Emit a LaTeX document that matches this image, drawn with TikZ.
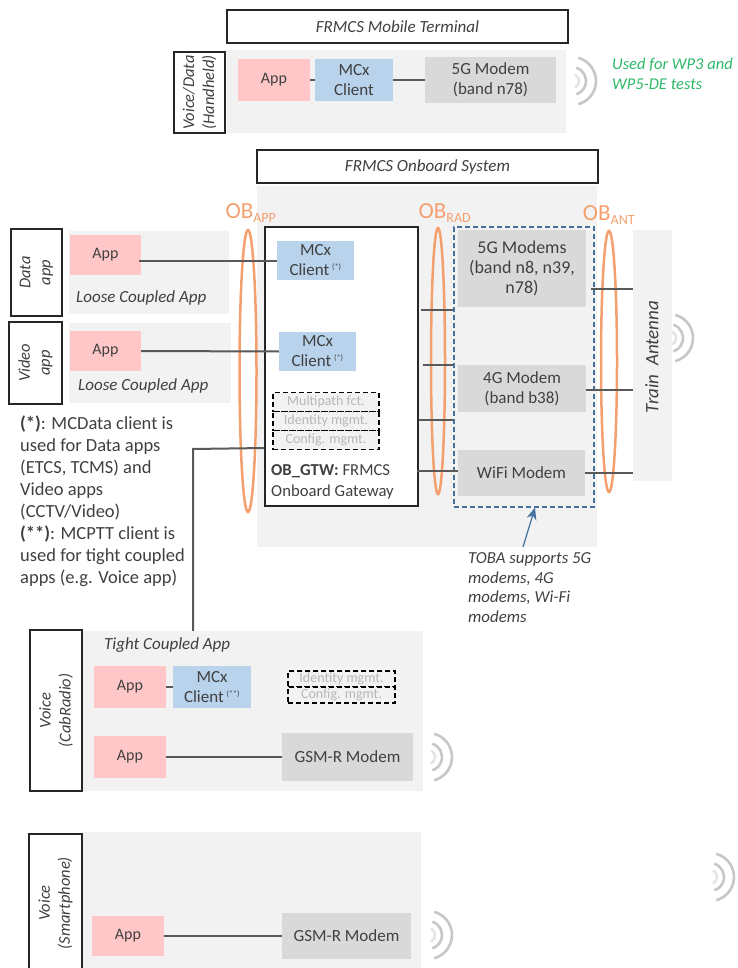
\documentclass[tikz,border=0pt]{standalone}
\usepackage{xcolor}
\usepackage{fontspec}
\setmainfont{Carlito}
\usetikzlibrary{arrows.meta,shapes.geometric}
\definecolor{panelgrey}{HTML}{F2F2F2}
\definecolor{modemgrey}{HTML}{D9D9D9}
\definecolor{apppink}{HTML}{FFC7C7}
\definecolor{mcxblue}{HTML}{B9D3EC}
\definecolor{oborange}{HTML}{F4A06E}
\definecolor{inkgrey}{HTML}{404040}
\definecolor{linkgrey}{HTML}{595959}
\definecolor{tobablue}{HTML}{44719F}
\definecolor{usedgreen}{HTML}{2DB86A}
\newcommand{\fs}[2]{\fontsize{#1}{#2}\selectfont}
\newcommand{\clientmark}[1]{\,\textsuperscript{\fs{8}{8}#1}}
\newcommand{\obsub}[1]{\textsubscript{\fs{14}{14}#1}}
\tikzset{
  every node/.style={text=inkgrey, inner sep=0pt, align=center, font=\fs{17}{20}},
  size/.style 2 args={minimum width=#1pt, minimum height=#2pt},
  panel/.style={fill=panelgrey},
  app/.style={fill=apppink, font=\fs{16}{20}},
  mcx/.style={fill=mcxblue},
  modem/.style={fill=modemgrey},
  tag/.style={draw=black!85, line width=1.4pt, fill=white, rotate=90, font=\fs{16.5}{20}\itshape, align=center},
  titlebox/.style={draw=black!85, line width=1.4pt, fill=white, font=\fs{17}{20}\itshape},
  mgmt/.style={draw=black, line width=1.3pt, dash pattern=on 5pt off 3pt, fill=panelgrey, text=black!28, font=\fs{14}{14}},
  note/.style={anchor=west, align=left},
  link/.style={draw=linkgrey, line width=2pt},
  obring/.style={draw=oborange, line width=2.5pt, ellipse},
  oblabel/.style={text=oborange, font=\fs{23}{23}},
  wave/.style={draw=black!22, line width=2.6pt},
  waves/.pic={
    \draw[wave, black!10] (-65:7) arc (-65:65:7);
    \draw[wave] (-72:14) arc (-72:72:14);
    \draw[wave] (-75:24) arc (-75:75:24);
  }
}
\begin{document}
\begin{tikzpicture}[x=1pt, y=-1pt]
  \useasboundingbox (0,0) rectangle (737,968);
  % background panels
  \node[panel, size={339}{83}] (termpanel) at (396.5,91.5) {};
  \node[panel, size={340}{361}] (obspanel) at (427,366.5) {};
  \node[panel, size={160}{83}] (datapanel) at (149,272.5) {};
  \node[panel, size={162}{80}] (videopanel) at (150,363) {};
  \node[panel, size={39}{251}] (antpanel) at (652.5,355.5) {};
  \node[panel, size={340}{160}] (cabpanel) at (253,711) {};
  \node[panel, size={338}{136}] (phonepanel) at (252,900) {};
  % left tags and titles
  \node[titlebox, size={341}{33}] (termtitle) at (397.5,26.5) {FRMCS Mobile Terminal};
  \node[titlebox, size={341}{33}] (obstitle) at (427.5,166.5) {FRMCS Onboard System};
  \node[tag, size={81}{51}] (handheld) at (199.5,92.5) {Voice/Data\\(Handheld)};
  \node[tag, size={87}{51}] (datatag) at (36.5,272.5) {Data\\app};
  \node[tag, size={82}{53}] (videotag) at (35.5,363) {Video\\app};
  \node[tag, size={161}{52}] (cabtag) at (56,710.5) {Voice\\(CabRadio)};
  \node[tag, size={138}{53}] (phonetag) at (55.5,903) {Voice\\(Smartphone)};
  % mobile terminal
  \node[app, size={72}{42}] (app0) at (274,80) {App};
  \node[mcx, size={78}{42}] (mcx0) at (354,80) {MCx\\Client};
  \node[modem, size={131}{46}] (modem0) at (490.5,80) {5G Modem\\(band n78)};
  \node[text=usedgreen, note, font=\fs{16.5}{20}\itshape] (used) at (612,74) {Used for WP3 and\\WP5-DE tests};
  % onboard system
  \node[draw=black!85, line width=1.4pt, fill=white, size={153}{279}] (gtw) at (341.5,366.5) {};
  \node[app, size={71}{40}] (app1) at (105.5,255) {App};
  \node[app, size={71}{40}] (app2) at (105.5,351) {App};
  \node[note, font=\fs{17}{20}\itshape] (loose1) at (76,298) {Loose Coupled App};
  \node[note, font=\fs{17}{20}\itshape] (loose2) at (78,386) {Loose Coupled App};
  \node[mcx, size={77}{39}] (mcx1) at (315.5,260.5) {MCx\\Client\clientmark{(*)}};
  \node[mcx, size={77}{39}] (mcx2) at (317.5,351.5) {MCx\\Client\clientmark{(*)}};
  \node[mgmt, size={106}{19}] (multi) at (326,402) {Multipath fct.};
  \node[mgmt, size={106}{19}] (ident) at (326,421) {Identity mgmt.};
  \node[mgmt, size={106}{19}] (config) at (326,440) {Config. mgmt.};
  \node[note, font=\fs{16.7}{21}] (gtwtext) at (271,481.5) {\textbf{OB\_GTW:} FRMCS\\Onboard Gateway};
  \node[modem, size={128}{77}, font=\fs{18}{20}] (modem5g) at (522,268.5) {5G Modems\\(band n8, n39,\\n78)};
  \node[modem, size={128}{47}] (modem4g) at (522,388.5) {4G Modem\\(band b38)};
  \node[modem, size={127}{46}] (wifi) at (521.5,473) {WiFi Modem};
  \node[draw=tobablue, line width=1.2pt, dash pattern=on 5pt off 3pt, size={140}{280}] (toba) at (524,367) {};
  \node[rotate=90, font=\fs{19}{20}\itshape] (antenna) at (652,357) {Train\ \ Antenna};
  % interfaces
  \node[obring, size={17}{282}] (ringapp) at (248,371) {};
  \node[obring, size={14}{266}] (ringrad) at (438,361) {};
  \node[obring, size={16}{261}] (ringant) at (609,361.5) {};
  \node[oblabel] (labapp) at (251,213) {OB\obsub{APP}};
  \node[oblabel] (labrad) at (445,213) {OB\obsub{RAD}};
  \node[oblabel] (labant) at (609,215) {OB\obsub{ANT}};
  % notes
  \node[note, font=\fs{18.5}{22}] (clients) at (20,501) {\textbf{(*)}: MCData client is\\used for Data apps\\(ETCS, TCMS) and\\Video apps\\(CCTV/Video)\\\textbf{(**)}: MCPTT client is\\used for tight coupled\\apps (e.g. Voice app)};
  \node[note, font=\fs{16.8}{19.5}\itshape] (tobatext) at (468,587.5) {TOBA supports 5G\\modems, 4G\\modems, Wi-Fi\\modems};
  % voice cab radio
  \node[note, font=\fs{17}{20}\itshape] (tight) at (104,645) {Tight Coupled App};
  \node[app, size={72}{42}] (app3) at (130,687) {App};
  \node[mcx, size={78}{42}] (mcx3) at (212,687) {MCx\\Client\clientmark{(**)}};
  \node[mgmt, size={107}{16}] (ident3) at (341.5,679) {Identity mgmt.};
  \node[mgmt, size={107}{16}] (config3) at (341.5,695) {Config. mgmt.};
  \node[app, size={72}{42}] (app4) at (130,757) {App};
  \node[modem, size={131}{48}] (gsm1) at (347.5,757) {GSM-R Modem};
  % voice smartphone
  \node[app, size={72}{40}] (app5) at (128,936) {App};
  \node[modem, size={129}{46}] (gsm2) at (346.5,936) {GSM-R Modem};
  % connectors
  \coordinate (bend) at (193,449);
  \coordinate (rad1) at (421,310);
  \coordinate (rad2) at (423,365);
  \coordinate (rad3) at (419,420);
  \coordinate (rad4) at (417,471);
  \coordinate (ant1) at (591,289);
  \coordinate (ant2) at (586,390);
  \coordinate (ant3) at (585,473);
  \coordinate (tobatail) at (523,547);
  \draw[link] (app0) -- (mcx0);
  \draw[link] (mcx0) -- (modem0);
  \draw[link] (app1.east) ++(-2,6) -- (mcx1.west |- 0,261);
  \draw[link] (app2.east) -- (mcx2.west);
  \draw[link] (config.west) ++(-8,8) -- (bend) -- (cabpanel.north -| bend);
  \draw[link] (rad1) -- (rad1 -| toba.west);
  \draw[link] (rad2) -- (rad2 -| toba.west);
  \draw[link] (rad3) -- (rad3 -| toba.west);
  \draw[link] (rad4) -- (rad4 -| wifi.west);
  \draw[link] (ant1) -- (ant1 -| antpanel.west);
  \draw[link] (ant2) -- (ant2 -| antpanel.west);
  \draw[link] (ant3) -- (ant3 -| antpanel.west);
  \draw[link] (app3) -- (mcx3);
  \draw[link] (app4) -- (gsm1);
  \draw[link] (app5) -- (gsm2);
  \draw[-{Stealth[length=12pt,width=10pt]}, draw=tobablue, fill=tobablue, line width=1.2pt] (tobatail) -- (toba.south -| 535,0);
  % radio waves
  \pic at (572,81) {waves};
  \pic at (669,338) {waves};
  \pic at (428,757) {waves};
  \pic at (428,935) {waves};
  \pic at (710,877) {waves};
\end{tikzpicture}
\end{document}
